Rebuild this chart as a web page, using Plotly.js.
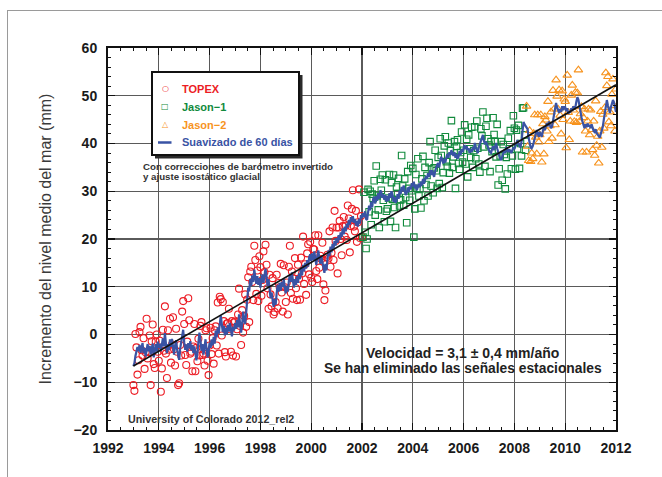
<!DOCTYPE html>
<html><head><meta charset="utf-8">
<script src="https://cdn.plot.ly/plotly-3.0.1.min.js"></script>
<style>
html,body{margin:0;padding:0;background:#fff;overflow:hidden;}
#chart{width:662px;height:477px;}
#frame{position:absolute;left:7px;top:10px;width:700px;height:500px;border-left:1.5px solid #9a9a9a;border-top:1.5px solid #9a9a9a;pointer-events:none;}
</style></head><body>
<div id="chart"></div><div id="frame"></div>
<script>
// ---- TOPEX (10-day cycles, years) ----
const topexYears = [
1993,1993.04,1993.08,1993.12,1993.16,1993.20,1993.24,1993.28,1993.32,1993.36,1993.40,1993.44,1993.48,1993.52,1993.56,1993.60,1993.64,1993.68,1993.72,1993.76,1993.80,1993.84,1993.88,1993.92,1993.96,
1994,1994.04,1994.08,1994.12,1994.16,1994.20,1994.24,1994.28,1994.32,1994.36,1994.40,1994.44,1994.48,1994.52,1994.56,1994.60,1994.64,1994.68,1994.72,1994.76,1994.80,1994.84,1994.88,1994.92,1994.96,
1995,1995.04,1995.08,1995.12,1995.16,1995.20,1995.24,1995.28,1995.32,1995.36,1995.40,1995.44,1995.48,1995.52,1995.56,1995.60,1995.64,1995.68,1995.72,1995.76,1995.80,1995.84,1995.88,1995.92,1995.96,
1996,1996.04,1996.08,1996.12,1996.16,1996.20,1996.24,1996.28,1996.32,1996.36,1996.40,1996.44,1996.48,1996.52,1996.56,1996.60,1996.64,1996.68,1996.72,1996.76,1996.80,1996.84,1996.88,1996.92,1996.96,
1997,1997.04,1997.08,1997.12,1997.16,1997.20,1997.24,1997.28,1997.32,1997.36,1997.40,1997.44,1997.48,1997.52,1997.56,1997.60,1997.64,1997.68,1997.72,1997.76,1997.80,1997.84,1997.88,1997.92,1997.96,
1998,1998.04,1998.08,1998.12,1998.16,1998.20,1998.24,1998.28,1998.32,1998.36,1998.40,1998.44,1998.48,1998.52,1998.56,1998.60,1998.64,1998.68,1998.72,1998.76,1998.80,1998.84,1998.88,1998.92,1998.96,
1999,1999.04,1999.08,1999.12,1999.16,1999.20,1999.24,1999.28,1999.32,1999.36,1999.40,1999.44,1999.48,1999.52,1999.56,1999.60,1999.64,1999.68,1999.72,1999.76,1999.80,1999.84,1999.88,1999.92,1999.96,
2000,2000.04,2000.08,2000.12,2000.16,2000.20,2000.24,2000.28,2000.32,2000.36,2000.40,2000.44,2000.48,2000.52,2000.56,2000.60,2000.64,2000.68,2000.72,2000.76,2000.80,2000.84,2000.88,2000.92,2000.96,
2001,2001.04,2001.08,2001.12,2001.16,2001.20,2001.24,2001.28,2001.32,2001.36,2001.40,2001.44,2001.48,2001.52,2001.56,2001.60,2001.64,2001.68,2001.72,2001.76,2001.80,2001.84,2001.88,2001.92,2001.96,
2002];
// 60-day smoothed curve (mm)
const topexSmooth = [
-6.6,-6.0,-4.5,-3.0,-2.6,-3.5,-2.2,-3.8,-2.5,-1.8,-3.9,-2.8,-4.6,-2.9,-2.0,-3.5,-2.4,-4.2,-3.0,-1.9,-4.8,-3.2,-2.0,-3.6,-1.5,
-2.8,-1.9,-3.5,-2.2,-0.8,-2.5,0.3,-1.8,-3.9,-2.0,-3.3,-1.0,-2.6,-0.9,-3.0,-4.2,-2.4,-1.2,-3.1,-4.4,-5.3,-3.0,-1.5,-0.2,1.0,
-1.6,-3.2,-2.1,-3.6,-1.8,-2.9,-1.4,-3.3,-2.2,-3.9,-2.5,-4.1,-5.4,-3.8,-1.6,0.4,-1.2,-3.4,-2.0,-4.2,-2.6,-1.0,-3.1,-4.8,-3.5,
-1.7,-2.8,-1.0,-2.3,-0.5,-1.9,0.8,-0.6,1.5,0.2,2.6,4.0,2.2,0.5,1.8,-0.2,1.4,0.0,2.0,0.6,2.4,1.0,-0.4,1.6,0.8,
2.4,1.2,3.0,1.5,4.2,2.6,0.4,2.0,4.8,3.0,2.2,4.6,7.5,9.8,9.0,11.6,10.2,12.4,11.0,13.6,12.0,10.6,12.2,10.4,11.8,
9.8,11.4,12.6,10.8,12.0,13.8,12.2,10.2,11.6,9.2,7.6,8.8,6.8,5.8,7.4,6.2,8.6,10.4,9.0,10.8,9.2,11.0,10.0,11.6,9.8,
8.6,10.2,9.0,11.2,12.6,11.0,13.0,11.4,9.8,11.6,10.4,12.2,10.8,12.8,11.6,14.0,12.4,14.6,13.2,15.0,13.8,15.6,14.2,16.2,16.8,
15.4,17.0,15.6,17.4,16.0,14.6,16.2,17.6,16.0,14.8,16.4,15.0,13.6,12.9,14.8,13.4,15.8,17.6,16.4,18.4,17.2,19.0,18.0,19.6,18.6,
20.2,19.2,20.8,19.8,21.4,20.4,22.2,21.0,22.6,21.6,23.2,22.4,24.0,23.0,24.6,23.6,24.8,23.4,24.2,22.8,23.8,22.6,24.2,23.2,25.0,
24.4];
// each 10-day value minus the smoothed curve (mm)
const topexResidual = [
-4.0,-5.8,4.6,0.3,-5.8,-1.9,2.7,5.4,-0.8,-2.6,3.1,-4.4,0.9,6.2,-3.0,-0.2,2.2,-6.4,1.6,4.0,-1.4,-3.8,0.5,3.6,-2.1,
-2.7,0.6,-8.5,-4.9,1.8,-0.9,5.6,-2.2,-5.2,2.9,0.1,4.3,-3.3,-1.2,6.6,1.1,-4.1,2.4,-0.5,-6.2,-4.9,0.8,-2.9,5.0,6.0,
3.8,-1.1,-4.3,2.1,9.4,5.9,-2.6,-0.3,-5.5,1.4,4.7,-3.6,2.6,-1.8,0.7,-4.8,3.0,6.0,-2.3,0.2,-3.9,1.9,4.4,-0.7,-5.0,
-0.6,4.2,-3.1,1.5,-5.6,2.8,0.9,-1.7,5.2,-4.2,5.3,3.4,-2.4,6.3,1.0,-3.5,-6.0,2.3,0.4,4.8,-1.3,-4.6,3.2,-6.0,1.7,
0.3,-5.8,-1.9,2.7,5.4,-0.8,-2.6,3.1,-4.4,0.9,6.2,-3.0,-0.2,2.2,-6.4,1.6,4.0,-1.4,-3.8,5.0,3.6,-2.1,1.2,-3.4,4.6,
4.3,-3.3,-1.2,6.6,1.1,5.0,2.4,-0.5,-6.2,3.3,0.8,-2.9,5.0,-1.6,-2.7,0.6,3.9,-4.9,1.8,-0.9,5.6,-2.2,-5.2,2.9,0.1,
-1.8,0.7,-4.8,3.0,6.0,-2.3,0.2,-3.9,1.9,4.4,-0.7,-5.0,3.8,-1.1,-4.3,2.1,0.4,5.9,-2.6,-0.3,-5.5,1.4,4.7,-3.6,2.6,
-3.5,-6.0,2.3,0.4,4.8,-1.3,-4.6,3.2,-2.0,1.7,-0.6,4.2,-3.1,-5.7,-5.6,2.8,0.9,-1.7,5.2,-4.2,-0.1,3.4,-2.4,6.3,1.0,
2.2,-6.4,1.6,4.0,-1.4,-3.8,0.5,3.6,-2.1,1.2,-3.4,4.6,0.3,-5.8,-1.9,2.7,5.4,-0.8,-2.6,3.1,-4.4,0.9,6.2,-3.0,-0.2,
-4.0];

// ---- Jason-1 ----
const jason1Years = [
2002.04,2002.08,2002.12,2002.16,2002.20,2002.24,2002.28,2002.32,2002.36,2002.40,2002.44,2002.48,2002.52,2002.56,2002.60,2002.64,2002.68,2002.72,2002.76,2002.80,2002.84,2002.88,2002.92,2002.96,
2003,2003.04,2003.08,2003.12,2003.16,2003.20,2003.24,2003.28,2003.32,2003.36,2003.40,2003.44,2003.48,2003.52,2003.56,2003.60,2003.64,2003.68,2003.72,2003.76,2003.80,2003.84,2003.88,2003.92,2003.96,
2004,2004.04,2004.08,2004.12,2004.16,2004.20,2004.24,2004.28,2004.32,2004.36,2004.40,2004.44,2004.48,2004.52,2004.56,2004.60,2004.64,2004.68,2004.72,2004.76,2004.80,2004.84,2004.88,2004.92,2004.96,
2005,2005.04,2005.08,2005.12,2005.16,2005.20,2005.24,2005.28,2005.32,2005.36,2005.40,2005.44,2005.48,2005.52,2005.56,2005.60,2005.64,2005.68,2005.72,2005.76,2005.80,2005.84,2005.88,2005.92,2005.96,
2006,2006.04,2006.08,2006.12,2006.16,2006.20,2006.24,2006.28,2006.32,2006.36,2006.40,2006.44,2006.48,2006.52,2006.56,2006.60,2006.64,2006.68,2006.72,2006.76,2006.80,2006.84,2006.88,2006.92,2006.96,
2007,2007.04,2007.08,2007.12,2007.16,2007.20,2007.24,2007.28,2007.32,2007.36,2007.40,2007.44,2007.48,2007.52,2007.56,2007.60,2007.64,2007.68,2007.72,2007.76,2007.80,2007.84,2007.88,2007.92,2007.96,
2008,2008.04,2008.08,2008.12,2008.16,2008.20,2008.24,2008.28,2008.32,2008.36,2008.40,2008.44];
const jason1Smooth = [
25.4,24.6,25.8,24.2,24.0,25.6,27.0,26.0,27.8,26.6,28.4,28.8,27.4,29.0,28.0,29.6,28.4,30.2,29.8,28.6,29.4,28.2,29.2,27.8,
29.0,28.0,29.6,28.6,30.0,29.2,27.8,28.8,27.6,28.0,29.4,28.4,30.2,29.4,30.9,30.0,31.2,30.2,29.2,29.6,30.8,29.8,31.0,30.4,31.7,
31.0,32.0,30.6,31.4,30.2,30.9,31.6,30.8,32.0,31.2,32.6,31.6,32.4,33.2,32.6,33.8,33.0,34.4,33.4,34.4,33.6,33.0,34.2,35.0,35.6,
35.9,35.0,36.4,37.2,36.6,35.8,36.8,36.0,37.0,37.8,37.0,38.2,37.6,38.6,38.0,37.4,38.2,37.0,37.8,36.8,37.2,38.4,37.6,38.8,38.2,
39.2,39.7,38.8,39.4,38.6,39.0,38.0,38.8,38.2,39.2,38.6,40.1,39.2,38.4,38.0,39.2,40.0,40.8,41.2,41.8,40.6,39.8,40.4,39.6,39.3,
38.6,38.2,38.0,38.8,39.4,38.6,39.6,40.1,39.0,38.2,37.4,36.8,36.5,37.2,38.0,38.6,38.0,39.3,38.8,38.2,38.8,38.4,38.0,38.6,39.2,
38.8,39.6,40.2,40.7,40.0,39.4,39.3,40.4,42.6,44.5,44.0,43.6];
const jason1Residual = [
-5.0,5.2,-4.4,-6.2,-4.0,4.8,-1.3,4.0,-4.8,2.8,0.1,3.4,-2.4,6.3,1.0,-3.5,-6.0,2.3,0.4,4.8,-1.3,-4.6,3.2,-2.0,
-2.7,0.6,3.9,-4.9,1.8,-0.9,5.6,-2.2,-5.2,2.9,0.1,4.3,-3.3,-1.2,6.6,1.1,-4.1,2.4,-0.5,-6.2,3.3,0.8,-2.9,5.0,-1.6,
3.8,-11.6,-4.3,2.1,0.4,5.9,-2.6,-0.3,-5.5,1.4,4.7,-3.6,2.6,-1.8,0.7,-4.8,3.0,6.0,-2.3,0.2,-3.9,1.9,4.4,-0.7,-5.0,
1.2,-3.4,4.6,0.3,-5.8,-1.9,2.7,5.4,-0.8,-2.6,3.1,-4.4,0.9,6.2,-3.0,-0.2,2.2,-6.4,1.6,4.0,-1.4,-3.8,0.5,3.6,-2.1,
-0.6,4.2,-3.1,1.5,-5.6,2.8,0.9,-1.7,5.2,-4.2,-0.1,3.4,-2.4,6.3,1.0,-3.5,-6.0,2.3,0.4,4.8,-1.3,-4.6,3.2,5.7,1.7,
1.1,-4.1,2.4,-0.5,6.0,3.3,0.8,-2.9,5.0,-6.9,-2.7,0.6,3.9,-4.9,1.8,-0.9,-7.5,-2.2,-5.2,2.9,0.1,4.3,-3.3,-1.2,6.6,
4.4,-5.0,2.6,-1.8,3.8,-4.6,0.7,-3.0,4.8,3.0,-2.2,-5.0];

// ---- Jason-2 ----
const jason2Years = [
2008.48,2008.52,2008.56,2008.60,2008.64,2008.68,2008.72,2008.76,2008.80,2008.84,2008.88,2008.92,2008.96,
2009,2009.04,2009.08,2009.12,2009.16,2009.20,2009.24,2009.28,2009.32,2009.36,2009.40,2009.44,2009.48,2009.52,2009.56,2009.60,2009.64,2009.68,2009.72,2009.76,2009.80,2009.84,2009.88,2009.92,2009.96,
2010,2010.04,2010.08,2010.12,2010.16,2010.20,2010.24,2010.28,2010.32,2010.36,2010.40,2010.44,2010.48,2010.52,2010.56,2010.60,2010.64,2010.68,2010.72,2010.76,2010.80,2010.84,2010.88,2010.92,2010.96,
2011,2011.04,2011.08,2011.12,2011.16,2011.20,2011.24,2011.28,2011.32,2011.36,2011.40,2011.44,2011.48,2011.52,2011.56,2011.60,2011.64,2011.68,2011.72,2011.76,2011.80,2011.84,2011.88,2011.92,2011.96,
2012];
const jason2Smooth = [
43.5,43.0,41.2,39.7,39.2,39.0,39.4,40.2,41.6,42.0,42.8,42.2,41.4,
42.4,41.8,41.4,42.6,43.4,42.8,44.0,44.3,43.6,44.6,43.8,43.2,43.5,44.8,46.2,47.4,48.5,47.6,46.8,46.4,47.2,46.6,47.8,47.0,47.6,
47.6,46.8,47.4,46.2,46.6,46.6,47.4,46.8,47.8,47.2,47.6,48.8,49.7,49.2,47.6,46.4,45.5,44.6,43.8,43.2,44.0,43.4,44.2,43.6,43.9,
43.2,44.0,43.0,42.6,42.4,43.0,42.2,41.8,41.4,41.2,42.0,42.8,43.5,45.0,46.8,48.2,49.1,48.0,46.8,46.4,47.6,48.4,49.1,48.6,47.6,
46.6];
const jason2Residual = [
4.3,-3.6,-4.8,3.0,-3.0,-1.0,-2.6,1.9,4.4,-0.7,-5.0,3.8,-1.1,
-0.6,4.2,-5.3,1.5,-5.6,2.8,0.9,-1.7,5.2,-4.2,-0.1,3.4,-2.4,6.3,1.0,-3.5,4.8,2.3,0.4,4.8,-1.3,-4.6,3.2,-2.0,1.7,
1.2,-7.7,6.9,0.3,-5.8,-1.9,2.7,5.4,-0.8,-2.6,3.1,-4.4,0.9,6.2,-3.0,-0.2,2.2,-6.4,1.6,4.0,-1.4,-5.2,0.5,3.6,-2.1,
3.8,-1.1,-4.3,2.1,-4.9,5.9,-2.6,-0.3,-5.5,1.4,4.7,-3.6,2.6,-1.8,0.7,6.6,3.0,6.0,-2.3,0.2,-3.9,1.9,4.4,-0.7,-5.0,
4.8];

// ---- trend ----
const trendYears = [1993.0, 2012.0];
const trendMm = [-6.6, 52.3];

const xTicks = [1992,1994,1996,1998,2000,2002,2004,2006,2008,2010,2012];
const yTicks = [-20,-10,0,10,20,30,40,50,60];
const yTickText = ['\u221220','\u221210','0','10','20','30','40','50','60'];

const RED='#ec1c24', GREEN='#118a3c', ORANGE='#f7931e', BLUE='#3953a4';
const FONT='"Liberation Sans", Arial, Helvetica, sans-serif';

const addArr = (a,b) => a.map((v,i) => +(v + b[i]).toFixed(1));

const traces = [
 {x: topexYears, y: addArr(topexSmooth, topexResidual), type:'scatter', mode:'markers', name:'TOPEX',
  marker:{symbol:'circle-open', size:7, color:RED, line:{width:1.1}}},
 {x: jason1Years, y: addArr(jason1Smooth, jason1Residual), type:'scatter', mode:'markers', name:'Jason\u22121',
  marker:{symbol:'square-open', size:6.5, color:GREEN, line:{width:1.1}}},
 {x: jason2Years, y: addArr(jason2Smooth, jason2Residual), type:'scatter', mode:'markers', name:'Jason\u22122',
  marker:{symbol:'triangle-up-open', size:7.5, color:ORANGE, line:{width:1.1}}},
 {x: topexYears.concat(jason1Years, jason2Years), y: topexSmooth.concat(jason1Smooth, jason2Smooth),
  type:'scatter', mode:'lines', name:'Suavizado de 60 días', line:{color:BLUE, width:2.2}},
 {x: trendYears, y: trendMm, type:'scatter', mode:'lines', name:'tendencia', line:{color:'#111', width:1.6}}
];

// layout helpers: pixel position in the 662x477 figure -> paper coordinates
const L=108, T=48, W=508, H=382;
const px = x => (x - L) / W;
const py = y => (T + H - y) / H;

const legendItems = [
  {sym:'\u25CB', color:RED,    text:'TOPEX',               y:88.5},
  {sym:'\u25A1', color:GREEN,  text:'Jason\u22121',         y:107},
  {sym:'\u25B3', color:ORANGE, text:'Jason\u22122',         y:124.5},
  {sym:null,     color:BLUE,   text:'Suavizado de 60 días', y:142}
];

const annotations = [];
legendItems.forEach(it => {
  if (it.sym) annotations.push({xref:'paper', yref:'paper', x:px(165), y:py(it.y), xanchor:'center', yanchor:'middle',
    showarrow:false, text:it.sym, font:{family:'"DejaVu Sans", sans-serif', size:8, color:it.color}});
  annotations.push({xref:'paper', yref:'paper', x:px(180), y:py(it.y), xanchor:'left', yanchor:'middle',
    showarrow:false, text:it.text, font:{family:FONT, size:11, weight:'bold', color:it.color}});
});
annotations.push(
  {xref:'paper', yref:'paper', x:px(141), y:py(166), xanchor:'left', yanchor:'middle', showarrow:false,
   text:'Con correcciones de barómetro invertido', font:{family:FONT, size:9.7, weight:'bold', color:'#333'}},
  {xref:'paper', yref:'paper', x:px(141), y:py(176.5), xanchor:'left', yanchor:'middle', showarrow:false,
   text:'y ajuste isostático glacial', font:{family:FONT, size:9.7, weight:'bold', color:'#333'}},
  {xref:'paper', yref:'paper', x:px(462.5), y:py(353), xanchor:'center', yanchor:'middle', showarrow:false,
   text:'Velocidad = 3,1 ± 0,4 mm/año', font:{family:FONT, size:14, weight:'bold', color:'#222'}},
  {xref:'paper', yref:'paper', x:px(463), y:py(368), xanchor:'center', yanchor:'middle', showarrow:false,
   text:'Se han eliminado las señales estacionales', font:{family:FONT, size:13.8, weight:'bold', color:'#222'}},
  {xref:'paper', yref:'paper', x:px(126), y:py(419), xanchor:'left', yanchor:'middle', showarrow:false,
   text:'University of Colorado 2012_rel2', font:{family:FONT, size:10.7, weight:'bold', color:'#333'}}
);

const layout = {
  width:662, height:477,
  margin:{l:L, r:662-L-W, t:T, b:477-T-H},
  paper_bgcolor:'#fff', plot_bgcolor:'#fff',
  font:{family:FONT, color:'#222'},
  showlegend:false,
  xaxis:{range:[1992,2012], tickvals:xTicks, ticks:'inside', ticklen:7, tickwidth:1.2, tickcolor:'#111',
         showline:true, linecolor:'#111', linewidth:2, mirror:'allticks', zeroline:false,
         showgrid:true, gridcolor:'#5a5a5a', gridwidth:1.3, ticklabelstandoff:4,
         tickfont:{family:FONT, size:14, weight:'bold', color:'#1a1a1a'},
         minor:{dtick:0.5, ticks:'inside', ticklen:3, tickcolor:'#111', tickwidth:1, showgrid:false}},
  yaxis:{range:[-20,60], tickvals:yTicks, ticktext:yTickText, ticks:'inside', ticklen:7, tickwidth:1.2, tickcolor:'#111',
         showline:true, linecolor:'#111', linewidth:2, mirror:'allticks', zeroline:false,
         showgrid:true, gridcolor:'#5a5a5a', gridwidth:1.3, ticklabelstandoff:6,
         tickfont:{family:FONT, size:14, weight:'bold', color:'#1a1a1a'},
         title:{text:'Incremento del nivel medio del mar (mm)', font:{family:FONT, size:16, color:'#3a3a3a'}, standoff:18},
         minor:{dtick:2, ticks:'inside', ticklen:3, tickcolor:'#111', tickwidth:1, showgrid:false}},
  shapes:[
    {type:'rect', xref:'paper', yref:'paper', x0:px(155), x1:px(302.5), y0:py(158.5), y1:py(75),
     fillcolor:'#2a2a2a', line:{width:0}, layer:'above'},
    {type:'rect', xref:'paper', yref:'paper', x0:px(152), x1:px(299), y0:py(155), y1:py(72),
     fillcolor:'#fff', line:{color:'#111', width:2}, layer:'above'},
    {type:'line', xref:'paper', yref:'paper', x0:px(158), x1:px(171.5), y0:py(142.5), y1:py(142.5),
     line:{color:BLUE, width:2.5}, layer:'above'}
  ],
  annotations: annotations
};
Plotly.newPlot('chart', traces, layout, {displayModeBar:false, staticPlot:true});
</script>
</body></html>
